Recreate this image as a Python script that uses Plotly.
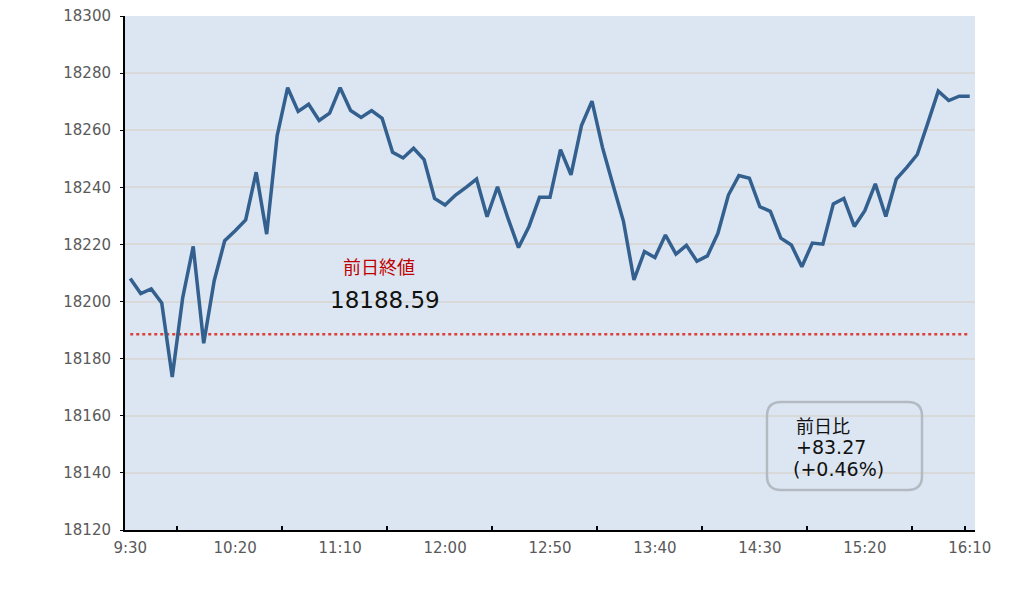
import plotly.graph_objects as go

times = [
    "9:30", "9:35", "9:40", "9:45", "9:50", "9:55", "10:00", "10:05", "10:10", "10:15",
    "10:20", "10:25", "10:30", "10:35", "10:40", "10:45", "10:50", "10:55", "11:00", "11:05",
    "11:10", "11:15", "11:20", "11:25", "11:30", "11:35", "11:40", "11:45", "11:50", "11:55",
    "12:00", "12:05", "12:10", "12:15", "12:20", "12:25", "12:30", "12:35", "12:40", "12:45",
    "12:50", "12:55", "13:00", "13:05", "13:10", "13:15", "13:20", "13:25", "13:30", "13:35",
    "13:40", "13:45", "13:50", "13:55", "14:00", "14:05", "14:10", "14:15", "14:20", "14:25",
    "14:30", "14:35", "14:40", "14:45", "14:50", "14:55", "15:00", "15:05", "15:10", "15:15",
    "15:20", "15:25", "15:30", "15:35", "15:40", "15:45", "15:50", "15:55", "16:00", "16:05",
    "16:10",
]

index_values = [
    18208.1, 18202.8, 18204.4, 18199.5, 18173.6, 18201.4, 18219.3, 18185.4, 18207.3, 18221.3,
    18224.8, 18228.6, 18245.3, 18223.6, 18258.1, 18274.9, 18266.6, 18269.1, 18263.4, 18266.0,
    18274.9, 18266.9, 18264.5, 18266.9, 18264.2, 18252.3, 18250.3, 18253.7, 18249.7, 18236.1,
    18233.8, 18237.3, 18240.0, 18242.9, 18229.7, 18240.2, 18229.1, 18218.9, 18226.3, 18236.5,
    18236.5, 18253.2, 18244.4, 18261.6, 18270.2, 18254.0, 18240.9, 18228.1, 18207.6, 18217.5,
    18215.4, 18223.3, 18216.6, 18219.7, 18214.1, 18216.0, 18223.9, 18237.3, 18244.1, 18243.2,
    18233.2, 18231.6, 18222.2, 18219.8, 18212.2, 18220.5, 18220.1, 18234.2, 18236.1, 18226.3,
    18231.8, 18241.2, 18229.8, 18242.9, 18247.0, 18251.5, 18262.5, 18273.7, 18270.4, 18271.9,
    18271.86,
]

prev_close = 18188.59
change_text = ["前日比", "+83.27", "(+0.46%)"]

x_labels = ["9:30", "10:20", "11:10", "12:00", "12:50", "13:40", "14:30", "15:20", "16:10"]
minor_tick_pos = [4.5, 14.5, 24.5, 34.5, 44.5, 54.5, 64.5, 74.5, 79.5]
y_ticks = [18120, 18140, 18160, 18180, 18200, 18220, 18240, 18260, 18280, 18300]

FONT_CJK = "Noto Sans CJK JP"
FONT_NUM = "DejaVu Sans, Noto Sans CJK JP"

# The page body adds an 8px offset; geometry below is in screenshot pixels.
OFF = 8
W, H = 1036 - 2 * OFF, 598 - 2 * OFF
PL, PR, PT, PB = 125, 975, 16, 530  # plot area in screenshot pixels
ML, MT = PL - OFF, PT - OFF
PW, PH = PR - PL, PB - PT
MR = W - ML - PW
MB = H - MT - PH


def px(x):
    return (x - PL) / PW


def py(y):
    return (PB - y) / PH


fig = go.Figure()

fig.add_trace(go.Scatter(
    x=times, y=[prev_close] * len(times), mode="lines",
    line=dict(color="#d8423a", width=2.5, dash="dot"),
    hoverinfo="skip", showlegend=False,
))

fig.add_trace(go.Scatter(
    x=times, y=index_values, mode="lines",
    line=dict(color="#33608f", width=3.5),
    showlegend=False,
))

# invisible trace to hold the secondary axis used for between-label tick marks
fig.add_trace(go.Scatter(
    x=minor_tick_pos, y=[None] * len(minor_tick_pos), xaxis="x2", yaxis="y",
    mode="markers", showlegend=False, hoverinfo="skip",
))

fig.update_layout(
    width=W, height=H,
    margin=dict(l=ML, r=MR, t=MT, b=MB, autoexpand=False),
    paper_bgcolor="white",
    plot_bgcolor="#dce6f2",
    font=dict(family=FONT_NUM, color="#595959", size=15),
    xaxis=dict(
        type="category", categoryorder="array", categoryarray=times,
        range=[-0.5, len(times) - 0.5], automargin=False,
        tickmode="array", tickvals=x_labels, ticktext=x_labels,
        ticks="", showgrid=False, zeroline=False,
        showline=True, linecolor="black", linewidth=2,
        tickfont=dict(size=15, color="#595959", family=FONT_NUM),
        ticklabelstandoff=3,
    ),
    xaxis2=dict(
        overlaying="x", anchor="y", side="bottom", automargin=False,
        range=[-0.5, len(times) - 0.5],
        tickmode="array", tickvals=minor_tick_pos,
        ticks="inside", ticklen=4, tickwidth=2, tickcolor="black",
        showticklabels=False, showgrid=False, zeroline=False, showline=False,
    ),
    yaxis=dict(
        range=[18120, 18300], automargin=False,
        tickmode="array", tickvals=y_ticks, tickformat="d",
        ticklabeloverflow="allow",
        showgrid=True, gridcolor="#d9d9d9", gridwidth=1.5,
        zeroline=False,
        showline=True, linecolor="black", linewidth=2,
        ticks="outside", ticklen=3, tickcolor="black", tickwidth=1,
        tickfont=dict(size=15, color="#595959", family=FONT_NUM),
        ticklabelstandoff=6,
    ),
)

# labels for the previous-close line
fig.add_annotation(
    x=px(379), y=py(266), xref="paper", yref="paper", showarrow=False,
    xanchor="center", yanchor="middle",
    text="前日終値", font=dict(family=FONT_CJK, size=18, color="#c00000"),
)
fig.add_annotation(
    x=px(385), y=py(300), xref="paper", yref="paper", showarrow=False,
    xanchor="center", yanchor="middle",
    text=f"{prev_close:.2f}", font=dict(family=FONT_NUM, size=23, color="#111111"),
)

# rounded box with change from previous day
bx0, bx1, by0, by1, r = 767, 922, 402, 490, 14
X0, X1 = px(bx0), px(bx1)
Y0, Y1 = py(by1), py(by0)
rx, ry = r / PW, r / PH
path = (
    f"M {X0 + rx},{Y1} L {X1 - rx},{Y1} Q {X1},{Y1} {X1},{Y1 - ry} "
    f"L {X1},{Y0 + ry} Q {X1},{Y0} {X1 - rx},{Y0} "
    f"L {X0 + rx},{Y0} Q {X0},{Y0} {X0},{Y0 + ry} "
    f"L {X0},{Y1 - ry} Q {X0},{Y1} {X0 + rx},{Y1} Z"
)
fig.add_shape(type="path", path=path, xref="paper", yref="paper",
              line=dict(color="#b3bac2", width=2.5), fillcolor="rgba(0,0,0,0)")

box_fonts = [FONT_CJK, FONT_NUM, FONT_NUM]
box_sizes = [18, 19, 19]
box_x = [795, 795, 792]
for t, xx, yy, fam, sz in zip(change_text, box_x, [425, 447, 469], box_fonts, box_sizes):
    fig.add_annotation(
        x=px(xx), y=py(yy), xref="paper", yref="paper", showarrow=False,
        xanchor="left", yanchor="middle", align="left", borderpad=0,
        text=t, font=dict(family=fam, size=sz, color="#111111"),
    )

fig.write_html("out.html")
